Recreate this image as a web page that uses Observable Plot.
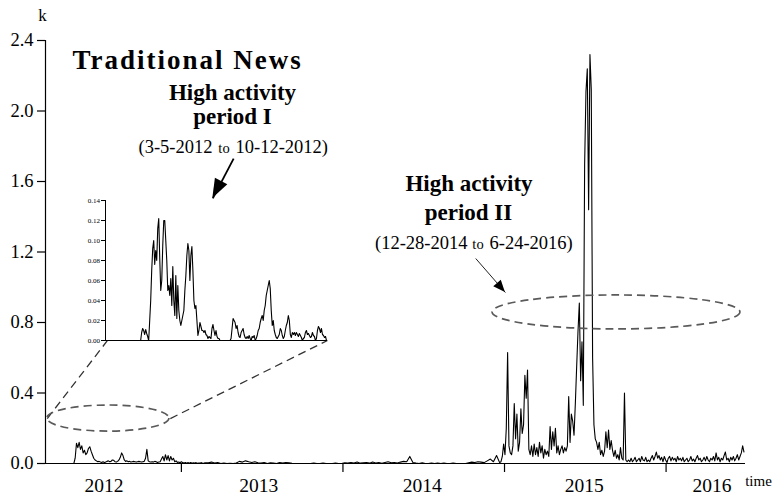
<!DOCTYPE html>
<html><head><meta charset="utf-8">
<script src="https://cdn.jsdelivr.net/npm/d3@7"></script>
<script src="https://cdn.jsdelivr.net/npm/@observablehq/plot@0.6"></script>
<style>
body{margin:0;background:#fff;}
#wrap{position:relative;width:773px;height:501px;overflow:hidden;background:#fff;}
#wrap svg{position:absolute;}
</style></head><body><div id="wrap"></div>
<script>
// ---------- data ----------
// Main series, three segments (start date, step in days, values in thousands)
const segAStart = "2012-05-03", segAStep = 3;
const segAValues = [0, 0.03, 0.115, 0.09, 0.12, 0.08, 0.1, 0.06, 0.075, 0.05,
 0.06, 0.085, 0.095, 0.07, 0.05, 0.03, 0.02, 0.015, 0.01, 0.012,
 0.008, 0.006, 0.01, 0.005, 0.008, 0.012, 0.015, 0.01, 0.012, 0.02,
 0.018, 0.01, 0.008, 0.012, 0.02, 0.035, 0.06, 0.045, 0.02, 0.012,
 0.015, 0.01, 0.012, 0.008, 0.01, 0.012, 0.01, 0.008, 0.01, 0.012,
 0.01, 0.008, 0.01, 0.012, 0.03, 0.08, 0.015, 0.01, 0.008, 0.01,
 0.008, 0.012, 0.01, 0.006, 0.008, 0.01, 0.025, 0.04, 0.015, 0.05,
 0.02, 0.045, 0.015, 0.04, 0.02, 0.03, 0.01, 0.015, 0.006, 0.008,
 0.004, 0.01, 0.005, 0.003, 0.006, 0.002, 0.005, 0.002, 0.006, 0.001,
 0.004, 0.002, 0.005, 0.001, 0.003, 0.002, 0.005, 0.001, 0.002, 0.004];

const segBStart = "2013-03-03", segBStep = 7;
const segBValues = [0.004, 0.008, 0.003, 0.006, 0, 0.002, 0, 0.001, 0, 0.003,
 0.012, 0.008, 0.015, 0.01, 0.006, 0.01, 0.004, 0.002, 0.006, 0,
 0.004, 0.002, 0, 0.005, 0.002, 0.006, 0.004, 0.001, 0, 0,
 0, 0, 0, 0, 0.003, 0, 0, 0.003, 0, 0,
 0, 0.003, 0, 0, 0.004, 0.002, 0.006, 0.003, 0.008, 0.002,
 0.004, 0.006, 0.002, 0.008, 0.003, 0.005, 0.001, 0.006, 0.01, 0.004,
 0.006, 0.003, 0.008, 0.012, 0.01, 0.04, 0.006, 0.002, 0, 0.004,
 0, 0, 0.003, 0, 0.002, 0, 0.002, 0, 0, 0.003,
 0, 0, 0, 0, 0.004, 0.008, 0.006, 0.01, 0.008, 0.005,
 0.015, 0.025, 0.01, 0.045];

const segCStart = "2014-12-21", segCStep = 3;
const segCValues = [0.005, 0.01, 0.04, 0.11, 0.05, 0.2, 0.63, 0.1, 0.06, 0.05,
 0.1, 0.34, 0.14, 0.28, 0.07, 0.12, 0.31, 0.17, 0.22, 0.5,
 0.37, 0.53, 0.08, 0.05, 0.1, 0.04, 0.11, 0.05, 0.09, 0.04,
 0.12, 0.06, 0.1, 0.03, 0.08, 0.05, 0.07, 0.04, 0.21, 0.08,
 0.18, 0.1, 0.2, 0.06, 0.1, 0.05, 0.08, 0.1, 0.06, 0.09,
 0.07, 0.1, 0.38, 0.12, 0.28, 0.24, 0.16, 0.34, 0.55, 0.75,
 0.91, 0.47, 0.69, 0.33, 1.7, 2.11, 2.24, 1.44, 2.32, 2.12,
 0.6, 0.22, 0.14, 0.12, 0.08, 0.12, 0.05, 0.075, 0.04, 0.07,
 0.18, 0.09, 0.19, 0.08, 0.13, 0.075, 0.04, 0.075, 0.03, 0.05,
 0.02, 0.09, 0.03, 0.02, 0.4, 0.02, 0.01, 0.02, 0.01, 0.03,
 0.01, 0.02, 0.035, 0.01, 0.02, 0.03, 0.01, 0.04, 0.02, 0.015,
 0.035, 0.01, 0.02, 0.01, 0.03, 0.045, 0.02, 0.04, 0.065, 0.03,
 0.045, 0.02, 0.035, 0.01, 0.04, 0.02, 0.005, 0.03, 0.04, 0.015,
 0.035, 0.02, 0.03, 0.01, 0.04, 0.02, 0.03, 0.015, 0.035, 0.01,
 0.02, 0.03, 0.01, 0.02, 0.04, 0.015, 0.025, 0.01, 0.03, 0.045,
 0.02, 0.03, 0.01, 0.02, 0.035, 0.015, 0.04, 0.02, 0.01, 0.03,
 0.02, 0.04, 0.015, 0.06, 0.02, 0.035, 0.01, 0.03, 0.02, 0.045,
 0.065, 0.02, 0.03, 0.01, 0.035, 0.02, 0.04, 0.015, 0.03, 0.05,
 0.02, 0.04, 0.06, 0.1, 0.065];

// Inset: high activity period I, daily values from 2012-04-09
const insetStart = "2012-04-09";
const insetValues = [0, 0.008, 0.012, 0.01, 0.006, 0.011, 0.007, 0.004, 0, 0.02,
 0.04, 0.07, 0.092, 0.1, 0.076, 0.09, 0.08, 0.112, 0.122, 0.082,
 0.05, 0.06, 0.095, 0.12, 0.12, 0.1, 0.08, 0.05, 0.055, 0.045,
 0.062, 0.035, 0.074, 0.04, 0.025, 0.065, 0.022, 0.055, 0.03, 0.02,
 0.015, 0.02, 0.025, 0.03, 0.05, 0.065, 0.085, 0.097, 0.09, 0.06,
 0.085, 0.094, 0.07, 0.04, 0.032, 0.035, 0.02, 0.005, 0.01, 0.018,
 0.014, 0.01, 0.01, 0.008, 0.01, 0.006, 0.005, 0.002, 0.004, 0.003,
 0.002, 0.012, 0.016, 0.01, 0.005, 0.01, 0.004, 0.002, 0.002, 0,
 0, 0, 0, 0, 0, 0, 0, 0, 0, 0,
 0.002, 0.012, 0.022, 0.02, 0.018, 0.012, 0.015, 0.008, 0.004, 0.003,
 0.008, 0.01, 0.012, 0.006, 0.003, 0.002, 0.004, 0.002, 0.005, 0.002,
 0, 0.004, 0.003, 0.005, 0, 0.002, 0.005, 0.01, 0.012, 0.018,
 0.022, 0.025, 0.02, 0.03, 0.035, 0.045, 0.05, 0.055, 0.06, 0.052,
 0.03, 0.015, 0.02, 0.01, 0.006, 0.003, 0.002, 0.004, 0.006, 0.012,
 0.01, 0.005, 0.002, 0.004, 0.01, 0.015, 0.018, 0.025, 0.02, 0.006,
 0.003, 0.008, 0.006, 0.008, 0.005, 0.008, 0.006, 0.004, 0.007, 0.005,
 0.003, 0, 0.002, 0.003, 0.008, 0.01, 0.006, 0.007, 0.005, 0.003,
 0.004, 0.008, 0.005, 0.004, 0, 0.002, 0.01, 0.014, 0.012, 0.008,
 0.012, 0.006, 0.005, 0.003, 0.004, 0];

// Axes
const xDomain = ["2012-02-29", "2016-06-28T10:00"];
const yTicks = [0, 0.4, 0.8, 1.2, 1.6, 2.0, 2.4];
const yearTicks = ["2013-01-01", "2014-01-01", "2015-01-01", "2016-01-01"];
const yearLabels = ["2012", "2013", "2014", "2015", "2016"];
const yearLabelDates = ["2012-07-10", "2013-06-25", "2014-06-29", "2015-06-30", "2016-04-14"];
const insetDomain = ["2012-03-05", "2012-10-12"];
const insetTicks = [0, 0.02, 0.04, 0.06, 0.08, 0.10, 0.12, 0.14];

// Annotations (data space)
const ellipses = [
  {cx: "2012-07-20", cy: 0.255, rxDays: 138, ry: 0.074},
  {cx: "2015-09-11", cy: 0.857, rxDays: 280, ry: 0.0965}
];
const connectors = [
  {x1: "2012-03-04", y1: 0.255, x2: "2012-07-18", y2: 0.698},
  {x1: "2012-12-07", y1: 0.255, x2: "2013-11-27", y2: 0.698}
];
const arrowI  = {x1: "2013-04-29", y1: 1.73,  x2: "2013-03-13", y2: 1.504};
const arrowII = {x1: "2014-10-28", y1: 1.163, x2: "2015-01-03", y2: 0.970};

// ---------- build ----------
const DAY = 864e5;
const D = s => new Date(s);
const seg = (start, step, vals) => vals.map((v, i) => ({date: new Date(+D(start) + i * step * DAY), value: v}));
const series = [...seg(segAStart, segAStep, segAValues), ...seg(segBStart, segBStep, segBValues), ...seg(segCStart, segCStep, segCValues)];
const insetSeries = seg(insetStart, 1, insetValues);

const FONT = "'Liberation Serif', 'Times New Roman', serif";

function shapes(index, scales) {
  const sx = scales.x, sy = scales.y;
  const g = d3.create("svg:g");
  for (const e of ellipses) {
    const cx = sx(D(e.cx)), cy = sy(e.cy);
    const rx = sx(new Date(+D(e.cx) + e.rxDays * DAY)) - cx;
    const ry = sy(0) - sy(e.ry);
    g.append("ellipse").attr("cx", cx).attr("cy", cy).attr("rx", rx).attr("ry", ry)
      .attr("fill", "none").attr("stroke", "#5a5a5a").attr("stroke-width", 1.7).attr("stroke-dasharray", "8,5");
  }
  const head = (a, len, half) => {
    const x1 = sx(D(a.x1)), y1 = sy(a.y1), x2 = sx(D(a.x2)), y2 = sy(a.y2);
    const L = Math.hypot(x2 - x1, y2 - y1), ux = (x2 - x1) / L, uy = (y2 - y1) / L;
    const bx = x2 - ux * len, by = y2 - uy * len;
    g.append("path").attr("d", `M${x2},${y2}L${bx - uy * half},${by + ux * half}L${bx + uy * half},${by - ux * half}Z`).attr("fill", "black");
  };
  head(arrowI, 19, 7);
  head(arrowII, 12, 5);
  return g.node();
}

const txt = (s, dx, dy, o = {}) => Plot.text([s], {frameAnchor: "top-left", dx, dy, text: d => d, lineAnchor: "middle", fill: "black", fontFamily: FONT, ...o});

const main = Plot.plot({
  width: 773, height: 501,
  marginLeft: 45, marginRight: 28, marginTop: 40, marginBottom: 38,
  style: {fontFamily: FONT, fontSize: "18.5px", background: "transparent", color: "black"},
  x: {type: "utc", domain: xDomain.map(D), label: null},
  y: {domain: [0, 2.4], label: null},
  marks: [
    Plot.axisY({ticks: yTicks, tickFormat: d3.format(".1f"), tickSize: 8, tickPadding: 4, fontSize: 18.5, strokeWidth: 1.2}),
    Plot.axisX({ticks: yearTicks.map(D), tickSize: 9, tickFormat: () => "", strokeWidth: 1.2}),
    Plot.text(yearLabels, {x: (d, i) => D(yearLabelDates[i]), y: () => 0, text: d => d, dy: 22, fontSize: 19.5, fill: "black", lineAnchor: "middle"}),
    Plot.text(["time"], {x: () => D(xDomain[1]), y: () => 0, text: d => d, dx: 13, dy: 18, fontSize: 15, fill: "black", lineAnchor: "middle"}),
    Plot.line(series, {x: "date", y: "value", stroke: "black", strokeWidth: 1.1}),
    Plot.ruleY([0], {stroke: "black", strokeWidth: 1.2}),
    Plot.ruleX([D(xDomain[0])], {y1: 0, y2: 2.4, stroke: "black", strokeWidth: 1.2}),
    Plot.link(connectors, {x1: d => D(d.x1), y1: "y1", x2: d => D(d.x2), y2: "y2", stroke: "#333", strokeWidth: 1.3, strokeDasharray: "8,5"}),
    Plot.link([arrowI], {x1: d => D(d.x1), y1: "y1", x2: d => D(d.x2), y2: "y2", stroke: "black", strokeWidth: 1.8}),
    Plot.link([arrowII], {x1: d => D(d.x1), y1: "y1", x2: d => D(d.x2), y2: "y2", stroke: "#222", strokeWidth: 1}),
    shapes,
    txt("k", -3, -25.4, {fontSize: 17, textAnchor: "middle"}),
    txt("Traditional News", 27, 19.4, {fontSize: 27, fontWeight: "bold", textAnchor: "start"}),
    txt("High activity", 187, 52.6, {fontSize: 23, fontWeight: "bold", textAnchor: "middle"}),
    txt("period I", 187, 76.6, {fontSize: 23, fontWeight: "bold", textAnchor: "middle"}),
    txt("(3-5-2012", 167, 106.1, {fontSize: 18.5, textAnchor: "end"}),
    txt("to", 178.5, 107.4, {fontSize: 14.5, textAnchor: "middle"}),
    txt("10-12-2012)", 190, 106.1, {fontSize: 18.5, textAnchor: "start"}),
    txt("High activity", 423.5, 143.6, {fontSize: 23, fontWeight: "bold", textAnchor: "middle"}),
    txt("period II", 423, 172.6, {fontSize: 23, fontWeight: "bold", textAnchor: "middle"}),
    txt("(12-28-2014", 422, 202.1, {fontSize: 18.5, textAnchor: "end"}),
    txt("to", 432.5, 203.4, {fontSize: 14.5, textAnchor: "middle"}),
    txt("6-24-2016)", 444, 202.1, {fontSize: 18.5, textAnchor: "start"})
  ]
});
d3.select(main).selectAll("text").filter(function () { return this.textContent === "Traditional News"; }).attr("letter-spacing", "2px");

const inset = Plot.plot({
  width: 275, height: 160,
  marginLeft: 45, marginRight: 8, marginTop: 10, marginBottom: 10,
  style: {fontFamily: FONT, fontSize: "7px", background: "transparent", color: "black"},
  x: {type: "utc", domain: insetDomain.map(D), axis: null, label: null},
  y: {domain: [0, 0.14], label: null},
  marks: [
    Plot.axisY({ticks: insetTicks, tickFormat: d3.format(".2f"), tickSize: 4, tickPadding: 1.5, fontSize: 7}),
    Plot.line(insetSeries, {x: "date", y: "value", stroke: "black", strokeWidth: 1.1}),
    Plot.ruleY([0], {stroke: "black", strokeWidth: 1}),
    Plot.ruleX([D(insetDomain[0])], {y1: 0, y2: 0.14, stroke: "black", strokeWidth: 1})
  ]
});

const wrap = document.getElementById("wrap");
main.style.left = "0px"; main.style.top = "0px";
inset.style.left = "60px"; inset.style.top = "190px";
wrap.appendChild(main);
wrap.appendChild(inset);
</script></body></html>
